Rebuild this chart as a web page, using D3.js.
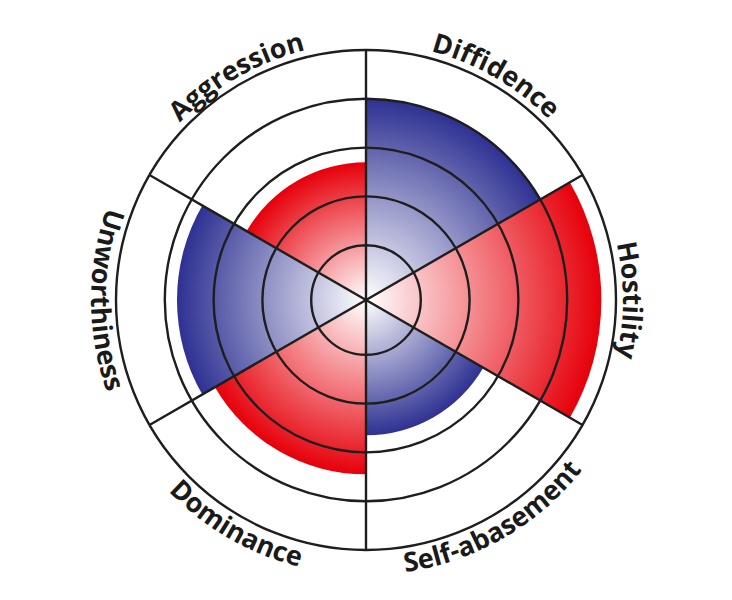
<!DOCTYPE html>
<html>
<head>
<meta charset="utf-8">
<script src="https://cdn.jsdelivr.net/npm/d3@7"></script>
<style>
  body { margin: 0; background: #fff; }
  .label { font-family: "Open Sans", sans-serif; font-weight: 700; font-size: 27px; fill: #1a1a1a; }
</style>
</head>
<body>
<svg id="chart" width="732" height="600"></svg>
<script>
var WIDTH = 732
var HEIGHT = 600
var CX = 366
var CY = 300
var OUTER = 250

// sectors go clockwise from 12 o'clock
var categories = ["Diffidence", "Hostility", "Self-abasement", "Dominance", "Unworthiness", "Aggression"];
var values = [4.0, 4.7, 2.65, 3.45, 3.75, 2.7];
var tones = ["blue", "red", "blue", "red", "blue", "red"];
var gridTicks = [1, 2, 3, 4, 5];

var TONE_COLOR = {
    blue: "#2e3192",
    red: "#e6000a",
};

var svg = d3.select("#chart");
var defs = svg.append("defs");
var g = svg.append("g").attr("transform", "translate(" + CX + "," + CY + ")");

var r = d3.scaleLinear().domain([0, 5]).range([6, OUTER]);
var angle = d3.scaleBand().domain(categories).range([0, 2 * Math.PI]).paddingInner(0).paddingOuter(0);

var data = categories.map(function(c, i){
    return {name: c, value: values[i], tone: tones[i], a0: angle(c), a1: angle(c) + angle.bandwidth()};
});

// one gradient per wedge, white at centre -> full colour at the wedge edge
data.forEach(function(d, i){
    var grad = defs.append("radialGradient")
        .attr("id", "grad-" + i)
        .attr("gradientUnits", "userSpaceOnUse")
        .attr("cx", 0).attr("cy", 0).attr("r", r(d.value));
    grad.append("stop").attr("offset", "0%").attr("stop-color", "#ffffff");
    grad.append("stop").attr("offset", "100%").attr("stop-color", TONE_COLOR[d.tone]);
});

var arc = d3.arc()
    .innerRadius(0)
    .outerRadius(function(d){ return r(d.value); })
    .startAngle(function(d){ return d.a0; })
    .endAngle(function(d){ return d.a1; });

g.selectAll("path.wedge")
    .data(data)
    .enter().append("path")
    .attr("class", "wedge")
    .attr("d", arc)
    .attr("fill", function(d, i){ return "url(#grad-" + i + ")"; });

// grid circles
g.selectAll("circle.grid")
    .data(gridTicks)
    .enter().append("circle")
    .attr("class", "grid")
    .attr("r", function(d){ return r(d); })
    .attr("fill", "none")
    .attr("stroke", "#1e1e1e")
    .attr("stroke-width", 2.4);

// spokes
g.selectAll("line.spoke")
    .data(data)
    .enter().append("line")
    .attr("class", "spoke")
    .attr("x1", 0).attr("y1", 0)
    .attr("x2", function(d){ return Math.sin(d.a0) * r(5); })
    .attr("y2", function(d){ return -Math.cos(d.a0) * r(5); })
    .attr("stroke", "#1e1e1e")
    .attr("stroke-width", 2.4);

// curved labels; lower ones run the other way so they stay readable
function isFlipped(d){
    var mid = (d.a0 + d.a1) / 2 * 180 / Math.PI;
    return mid > 90 && mid <= 270;
}

function labelPath(d){
    var flip = isFlipped(d);
    var rad = flip ? 275 : 257;
    var p0 = [Math.sin(d.a0) * rad, -Math.cos(d.a0) * rad];
    var p1 = [Math.sin(d.a1) * rad, -Math.cos(d.a1) * rad];
    if (flip)
        return "M" + p1[0] + "," + p1[1] + " A" + rad + "," + rad + " 0 0 0 " + p0[0] + "," + p0[1];
    return "M" + p0[0] + "," + p0[1] + " A" + rad + "," + rad + " 0 0 1 " + p1[0] + "," + p1[1];
}

g.selectAll("path.label-path")
    .data(data)
    .enter().append("path")
    .attr("class", "label-path")
    .attr("id", function(d, i){ return "label-path-" + i; })
    .attr("d", labelPath)
    .attr("fill", "none");

g.selectAll("text.label")
    .data(data)
    .enter().append("text")
    .attr("class", "label")
    .append("textPath")
    .attr("href", function(d, i){ return "#label-path-" + i; })
    .attr("startOffset", "50%")
    .attr("text-anchor", "middle")
    .text(function(d){ return d.name; });
</script>
</body>
</html>
